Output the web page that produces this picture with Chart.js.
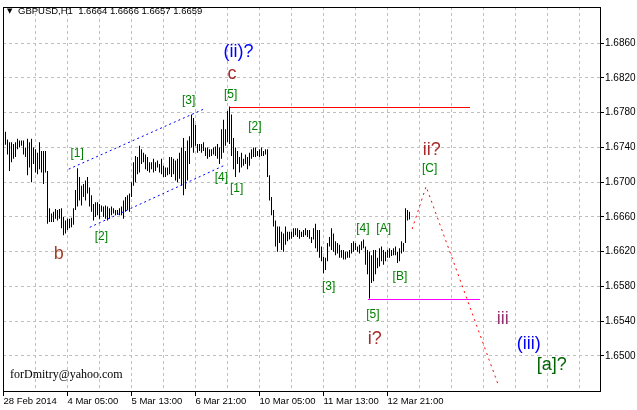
<!DOCTYPE html>
<html>
<head>
<meta charset="utf-8">
<script src="https://cdn.jsdelivr.net/npm/chart.js@4.4.1/dist/chart.umd.min.js"></script>
<style>
  html, body { margin: 0; padding: 0; background: #fff; }
  #wrap { width: 637px; height: 410px; }
</style>
</head>
<body>
<div id="wrap"><canvas id="gbpusd" width="637" height="410"></canvas></div>
<script>
(function () {
    "use strict";

    // H1 bars, oldest first (high / low)
    var highs = [
        1.6758, 1.6749, 1.6746, 1.6746, 1.6744, 1.6746, 1.6750, 1.6748, 1.6748, 1.6748,
        1.6740, 1.6750, 1.6746, 1.6750, 1.6740, 1.6738, 1.6734, 1.6746, 1.6736, 1.6736,
        1.6736, 1.6713, 1.6670, 1.6664, 1.6666, 1.6669, 1.6668, 1.6669, 1.6670, 1.6660,
        1.6656, 1.6658, 1.6658, 1.6659, 1.6670, 1.6691, 1.6716, 1.6706, 1.6696, 1.6698,
        1.6702, 1.6706, 1.6694, 1.6685, 1.6675, 1.6677, 1.6677, 1.6675, 1.6673, 1.6672,
        1.6673, 1.6672, 1.6670, 1.6672, 1.6670, 1.6668, 1.6668, 1.6670, 1.6672, 1.6679,
        1.6683, 1.6685, 1.6687, 1.6700, 1.6723, 1.6730, 1.6729, 1.6742, 1.6738, 1.6734,
        1.6732, 1.6729, 1.6723, 1.6723, 1.6727, 1.6723, 1.6725, 1.6721, 1.6727, 1.6719,
        1.6717, 1.6717, 1.6729, 1.6729, 1.6727, 1.6725, 1.6727, 1.6734, 1.6740, 1.6751,
        1.6736, 1.6748, 1.6753, 1.6778, 1.6774, 1.6766, 1.6744, 1.6744, 1.6744, 1.6746,
        1.6740, 1.6740, 1.6738, 1.6738, 1.6740, 1.6741, 1.6744, 1.6740, 1.6761, 1.6772,
        1.6761, 1.6782, 1.6787, 1.6778, 1.6751, 1.6740, 1.6736, 1.6729, 1.6734, 1.6727,
        1.6732, 1.6729, 1.6734, 1.6738, 1.6740, 1.6740, 1.6736, 1.6738, 1.6740, 1.6736,
        1.6738, 1.6738, 1.6708, 1.6683, 1.6668, 1.6656, 1.6649, 1.6649, 1.6643, 1.6641,
        1.6649, 1.6643, 1.6643, 1.6643, 1.6647, 1.6647, 1.6647, 1.6645, 1.6643, 1.6645,
        1.6647, 1.6645, 1.6645, 1.6637, 1.6647, 1.6652, 1.6645, 1.6645, 1.6626, 1.6614,
        1.6613, 1.6630, 1.6637, 1.6647, 1.6641, 1.6632, 1.6630, 1.6628, 1.6622, 1.6622,
        1.6620, 1.6620, 1.6622, 1.6630, 1.6632, 1.6630, 1.6626, 1.6628, 1.6632, 1.6634,
        1.6626, 1.6622, 1.6620, 1.6616, 1.6622, 1.6622, 1.6613, 1.6624, 1.6626, 1.6622,
        1.6620, 1.6622, 1.6624, 1.6622, 1.6624, 1.6626, 1.6620, 1.6624, 1.6632, 1.6630,
        1.6670, 1.6668, 1.6666
    ];
    var lows = [
        1.6743, 1.6732, 1.6713, 1.6723, 1.6727, 1.6729, 1.6738, 1.6740, 1.6742, 1.6732,
        1.6729, 1.6708, 1.6717, 1.6700, 1.6721, 1.6711, 1.6709, 1.6715, 1.6711, 1.6698,
        1.6711, 1.6652, 1.6654, 1.6654, 1.6654, 1.6658, 1.6656, 1.6658, 1.6647, 1.6639,
        1.6641, 1.6645, 1.6647, 1.6648, 1.6651, 1.6668, 1.6672, 1.6679, 1.6673, 1.6683,
        1.6679, 1.6687, 1.6672, 1.6666, 1.6656, 1.6660, 1.6662, 1.6658, 1.6666, 1.6660,
        1.6658, 1.6656, 1.6658, 1.6662, 1.6664, 1.6662, 1.6663, 1.6662, 1.6662, 1.6658,
        1.6666, 1.6668, 1.6666, 1.6683, 1.6696, 1.6700, 1.6709, 1.6711, 1.6721, 1.6723,
        1.6715, 1.6713, 1.6711, 1.6715, 1.6711, 1.6713, 1.6717, 1.6711, 1.6709, 1.6706,
        1.6706, 1.6708, 1.6709, 1.6706, 1.6709, 1.6702, 1.6700, 1.6704, 1.6696, 1.6685,
        1.6692, 1.6702, 1.6721, 1.6740, 1.6734, 1.6742, 1.6734, 1.6736, 1.6734, 1.6736,
        1.6730, 1.6727, 1.6729, 1.6730, 1.6732, 1.6730, 1.6727, 1.6721, 1.6727, 1.6734,
        1.6742, 1.6746, 1.6744, 1.6730, 1.6715, 1.6706, 1.6721, 1.6711, 1.6717, 1.6719,
        1.6721, 1.6715, 1.6719, 1.6727, 1.6729, 1.6729, 1.6730, 1.6729, 1.6730, 1.6730,
        1.6732, 1.6706, 1.6679, 1.6662, 1.6649, 1.6626, 1.6620, 1.6630, 1.6622, 1.6620,
        1.6628, 1.6632, 1.6634, 1.6635, 1.6637, 1.6639, 1.6637, 1.6635, 1.6637, 1.6637,
        1.6639, 1.6637, 1.6635, 1.6630, 1.6634, 1.6624, 1.6620, 1.6613, 1.6609, 1.6595,
        1.6599, 1.6609, 1.6626, 1.6622, 1.6620, 1.6616, 1.6618, 1.6613, 1.6613, 1.6611,
        1.6611, 1.6613, 1.6613, 1.6618, 1.6620, 1.6622, 1.6620, 1.6618, 1.6622, 1.6624,
        1.6605, 1.6594, 1.6566, 1.6584, 1.6586, 1.6594, 1.6601, 1.6603, 1.6609, 1.6605,
        1.6609, 1.6613, 1.6613, 1.6615, 1.6616, 1.6616, 1.6607, 1.6609, 1.6618, 1.6620,
        1.6630, 1.6656, 1.6657
    ];

    // time axis: bar index of each label
    var timeTickBars = [-1, 31, 63, 95, 127, 159, 191];
    var timeTickText = ["28 Feb 2014", "4 Mar 05:00", "5 Mar 13:00", "6 Mar 21:00",
                        "10 Mar 05:00", "11 Mar 13:00", "12 Mar 21:00"];
    var priceTicks = [1.6500, 1.6540, 1.6580, 1.6620, 1.6660, 1.6700, 1.6740, 1.6780, 1.6820, 1.6860];

    var symbolInfo = "GBPUSD,H1  1.6664 1.6666 1.6657 1.6659";

    // wave marks (bar index, price)
    var waveLabels = [
        { t: "(ii)?", bar: 116.5, p: 1.6850, c: "#0000ff" },
        { t: "c",     bar: 113.3, p: 1.6824, c: "#a52a2a" },
        { t: "[5]",   bar: 112.6, p: 1.6801, c: "#008000" },
        { t: "[3]",   bar: 91.6,  p: 1.6794, c: "#008000" },
        { t: "[1]",   bar: 35.8,  p: 1.6733, c: "#008000" },
        { t: "[2]",   bar: 47.9,  p: 1.6637, c: "#008000" },
        { t: "[2]",   bar: 124.7, p: 1.6764, c: "#008000" },
        { t: "[4]",   bar: 107.9, p: 1.6705, c: "#008000" },
        { t: "[1]",   bar: 115.6, p: 1.6692, c: "#008000" },
        { t: "b",     bar: 26.6,  p: 1.6617, c: "#a0402a" },
        { t: "[3]",   bar: 161.6, p: 1.6580, c: "#008000" },
        { t: "[4]",   bar: 178.7, p: 1.6646, c: "#008000" },
        { t: "[A]",   bar: 189.1, p: 1.6646, c: "#008000" },
        { t: "[B]",   bar: 197.2, p: 1.6591, c: "#008000" },
        { t: "[5]",   bar: 183.7, p: 1.6547, c: "#008000" },
        { t: "i?",    bar: 184.6, p: 1.6519, c: "#a52a2a" },
        { t: "ii?",   bar: 213.1, p: 1.6737, c: "#a52a2a" },
        { t: "[C]",   bar: 212.1, p: 1.6715, c: "#008000" },
        { t: "iii",   bar: 248.6, p: 1.6542, c: "#94366e" },
        { t: "(iii)", bar: 261.6, p: 1.6514, c: "#0000ff" },
        { t: "[a]?",  bar: 273.1, p: 1.6490, c: "#006400" }
    ];

    // drawn lines (bar index, price)
    var drawnLines = [
        { pts: [[31.6, 1.6715], [99.0, 1.6784]], c: "#0000ff", dash: [2, 3] },
        { pts: [[42.1, 1.6648], [109.1, 1.6719]], c: "#0000ff", dash: [2, 3] },
        { pts: [[112, 1.6787], [232, 1.6787]], c: "#ff0000", dash: [] },
        { pts: [[181.1, 1.6566], [237, 1.6566]], c: "#ff00ff", dash: [] },
        { pts: [[203.3, 1.6646], [210.3, 1.6695], [246.3, 1.6467]], c: "#ff0000", dash: [2, 4] }
    ];

    var bars = highs.map(function (h, i) {
        return { x: i, y: [lows[i], h] };
    });

    Chart.defaults.font.family = "'Liberation Sans', Arial, sans-serif";
    Chart.defaults.color = "#000";

    var overlay = {
        id: "overlay",
        afterDatasetsDraw: function (chart) {
            var ctx = chart.ctx, xs = chart.scales.x, ys = chart.scales.y, a = chart.chartArea;
            ctx.save();
            ctx.beginPath();
            ctx.rect(a.left, a.top, a.right - a.left, a.bottom - a.top);
            ctx.clip();

            drawnLines.forEach(function (ln) {
                var px = ln.pts.map(function (pt) { return xs.getPixelForValue(pt[0]); });
                var py = ln.pts.map(function (pt) { return ys.getPixelForValue(pt[1]); });
                if (ln.dash.length === 0) {
                    // solid horizontal level
                    ctx.fillStyle = ln.c;
                    ctx.fillRect(Math.round(px[0]), Math.round(py[0]), Math.round(px[1] - px[0]), 1);
                    return;
                }
                ctx.beginPath();
                ctx.strokeStyle = ln.c;
                ctx.lineWidth = 1;
                ctx.setLineDash(ln.dash);
                px.forEach(function (x, k) {
                    if (k === 0) { ctx.moveTo(x, py[k]); } else { ctx.lineTo(x, py[k]); }
                });
                ctx.stroke();
            });
            ctx.setLineDash([]);

            ctx.textAlign = "center";
            ctx.textBaseline = "middle";
            waveLabels.forEach(function (w) {
                var big = w.t.indexOf("[") < 0 || w.t === "[a]?";
                ctx.font = (big ? "18px" : "12px") + " 'Liberation Sans', Arial, sans-serif";
                ctx.fillStyle = w.c;
                ctx.fillText(w.t, xs.getPixelForValue(w.bar), ys.getPixelForValue(w.p));
            });

            // watermark
            ctx.textAlign = "left";
            ctx.textBaseline = "alphabetic";
            ctx.font = "12px 'Liberation Serif', 'Times New Roman', serif";
            ctx.fillStyle = "#000";
            ctx.fillText("forDmitry@yahoo.com", 10, 378);
            ctx.restore();

            // frame
            ctx.save();
            ctx.strokeStyle = "#000";
            ctx.lineWidth = 1;
            ctx.strokeRect(a.left + 0.5, a.top + 0.5, a.right - a.left - 1, a.bottom - a.top - 1);

            // symbol line
            ctx.fillStyle = "#000";
            ctx.textBaseline = "middle";
            ctx.font = "7px 'DejaVu Sans', sans-serif";
            ctx.fillText("\u25BC", 7, 11);
            ctx.font = "9.5px 'Liberation Sans', Arial, sans-serif";
            ctx.fillText(symbolInfo, 18, 11);
            ctx.restore();
        }
    };

    new Chart(document.getElementById("gbpusd").getContext("2d"), {
        type: "bar",
        data: {
            datasets: [{
                data: bars,
                backgroundColor: "#000",
                borderWidth: 0,
                inflateAmount: 0,
                barThickness: 1
            }]
        },
        options: {
            responsive: false,
            animation: false,
            layout: { padding: { left: 3, top: 3, right: 0, bottom: 0 } },
            plugins: { legend: { display: false }, tooltip: { enabled: false } },
            scales: {
                x: {
                    type: "linear",
                    min: -1.25,
                    max: 297.75,
                    offset: false,
                    afterFit: function (s) { s.height = 18; },
                    afterBuildTicks: function (s) {
                        var t = [];
                        for (var v = -1; v <= 297; v += 16) { t.push({ value: v }); }
                        s.ticks = t;
                    },
                    grid: {
                        offset: false,
                        color: "#c0c0c0",
                        lineWidth: 1,
                        tickLength: 4,
                        tickBorderDash: [],
                        tickColor: function (c) {
                            return c.tick && timeTickBars.indexOf(c.tick.value) >= 0 ? "#000" : "rgba(0,0,0,0)";
                        }
                    },
                    border: { display: false, dash: [3, 3] },
                    ticks: {
                        autoSkip: false,
                        maxRotation: 0,
                        minRotation: 0,
                        align: "start",
                        padding: 0,
                        color: "#000",
                        font: { size: 9.5 },
                        callback: function (v) {
                            var k = timeTickBars.indexOf(v);
                            return k < 0 ? "" : timeTickText[k];
                        }
                    }
                },
                y: {
                    position: "right",
                    min: 1.64584,
                    max: 1.69017,
                    beginAtZero: false,
                    afterFit: function (s) { s.width = 36; },
                    afterBuildTicks: function (s) {
                        s.ticks = priceTicks.map(function (v) { return { value: v }; });
                    },
                    grid: {
                        color: "#c0c0c0",
                        lineWidth: 1,
                        tickLength: 3,
                        tickBorderDash: [],
                        tickColor: "#000"
                    },
                    border: { display: false, dash: [3, 3] },
                    ticks: {
                        autoSkip: false,
                        padding: 1,
                        color: "#000",
                        font: { size: 10 },
                        callback: function (v) { return v.toFixed(4); }
                    }
                }
            }
        },
        plugins: [overlay]
    });

})();
</script>
</body>
</html>
